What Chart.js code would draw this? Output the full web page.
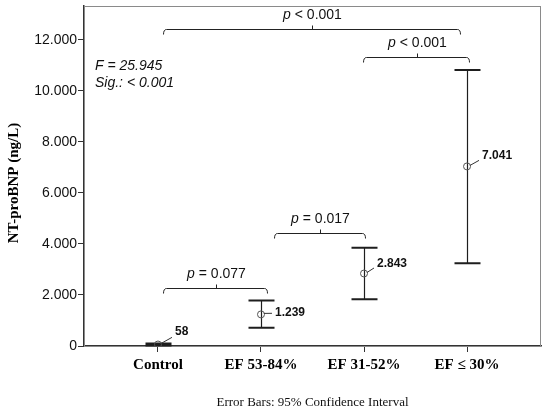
<!DOCTYPE html>
<html>
<head>
<meta charset="utf-8">
<script src="https://cdn.jsdelivr.net/npm/chart.js@4"></script>
<style>
  body { margin: 0; background: #fff; }
</style>
</head>
<body>
<canvas id="ciChart" width="550" height="411"></canvas>
<script>
const groups = ['Control', 'EF 53-84%', 'EF 31-52%', 'EF \u2264 30%'];
const meanValues = [58, 1239, 2843, 7041];
const ciLow = [22, 720, 1830, 3240];
const ciHigh = [96, 1780, 3850, 10820];
const yTicks = [0, 2000, 4000, 6000, 8000, 10000, 12000];

// pairwise comparisons
const bracketFrom = [0, 1, 2, 0];
const bracketTo = [1, 2, 3, 3];
const bracketLevel = [2275, 4430, 11330, 12430];
const bracketText = ['= 0.077', '= 0.017', '< 0.001', '< 0.001'];

const anovaLines = ['F = 25.945', 'Sig.: < 0.001'];

// pixel nudges for the drawing only
const labelNudge = [[17, -13], [14, -2], [13, -10], [15, -11]];
const bracketInset = [[5, 6], [13, 1], [-1, 2], [5, -7]];

const SANS = '"Liberation Sans", Arial, sans-serif';
const SERIF = '"Liberation Serif", "Times New Roman", serif';

function dotThousands(v) {
    return String(v).replace(/\B(?=(\d{3})+(?!\d))/g, '.');
}

const extras = {
    id: 'extras',
    beforeDatasetsDraw(chart) {
        const {ctx, chartArea: a, scales: {x, y}} = chart;
        ctx.save();
        // frame
        ctx.strokeStyle = '#8a8a8a';
        ctx.lineWidth = 1;
        ctx.strokeRect(a.left + 0.5, a.top + 0.5, a.right - a.left - 1, a.bottom - a.top);

        // error bars
        ctx.strokeStyle = '#1e1e1e';
        for (let i = 0; i < groups.length; i++) {
            const px = Math.round(x.getPixelForValue(i)) + 0.5;
            const lo = y.getPixelForValue(ciLow[i]);
            const hi = y.getPixelForValue(ciHigh[i]);
            ctx.lineWidth = 1.2;
            ctx.beginPath();
            ctx.moveTo(px, lo);
            ctx.lineTo(px, hi);
            ctx.stroke();
            ctx.lineWidth = 2;
            ctx.beginPath();
            ctx.moveTo(px - 13, lo);
            ctx.lineTo(px + 13, lo);
            ctx.moveTo(px - 13, hi);
            ctx.lineTo(px + 13, hi);
            ctx.stroke();
        }
        ctx.restore();
    },
    afterDatasetsDraw(chart) {
        const {ctx, chartArea: a, scales: {x, y}} = chart;
        ctx.save();

        // mean labels with leader lines
        ctx.font = 'bold 12px ' + SANS;
        ctx.textBaseline = 'middle';
        ctx.fillStyle = '#111';
        ctx.strokeStyle = '#333';
        ctx.lineWidth = 1;
        for (let i = 0; i < groups.length; i++) {
            const px = x.getPixelForValue(i);
            const py = y.getPixelForValue(meanValues[i]);
            const [dx, dy] = labelNudge[i];
            ctx.beginPath();
            ctx.moveTo(px + 3, py - 1);
            ctx.lineTo(px + dx - 3, py + dy * 0.55);
            ctx.stroke();
            ctx.textAlign = 'left';
            ctx.fillText(dotThousands(meanValues[i]), px + dx, py + dy);
        }

        // brackets
        ctx.strokeStyle = '#222';
        ctx.lineWidth = 1;
        for (let k = 0; k < bracketFrom.length; k++) {
            const x0 = Math.round(x.getPixelForValue(bracketFrom[k]) + bracketInset[k][0]) + 0.5;
            const x1 = Math.round(x.getPixelForValue(bracketTo[k]) + bracketInset[k][1]) + 0.5;
            const by = Math.round(y.getPixelForValue(bracketLevel[k])) + 0.5;
            const mid = Math.round((x0 + x1) / 2) + 0.5;
            ctx.beginPath();
            ctx.moveTo(x0, by + 5);
            ctx.quadraticCurveTo(x0, by, x0 + 3, by);
            ctx.lineTo(x1 - 3, by);
            ctx.quadraticCurveTo(x1, by, x1, by + 5);
            ctx.moveTo(mid, by);
            ctx.lineTo(mid, by - 4);
            ctx.stroke();

            ctx.font = 'italic 14px ' + SANS;
            const wp = ctx.measureText('p').width;
            ctx.font = '14px ' + SANS;
            const rest = ' ' + bracketText[k];
            const wr = ctx.measureText(rest).width;
            const sx = mid - (wp + wr) / 2;
            const ty = by - 14;
            ctx.textAlign = 'left';
            ctx.font = 'italic 14px ' + SANS;
            ctx.fillText('p', sx, ty);
            ctx.font = '14px ' + SANS;
            ctx.fillText(rest, sx + wp, ty);
        }

        // ANOVA result
        ctx.font = 'italic 14px ' + SANS;
        ctx.textAlign = 'left';
        anovaLines.forEach((t, j) => ctx.fillText(t, a.left + 11, a.top + 60 + j * 17));

        // y axis title, placed a bit below the plot centre as in the source
        ctx.save();
        ctx.translate(14, (a.top + a.bottom) / 2 + 7);
        ctx.rotate(-Math.PI / 2);
        ctx.textAlign = 'center';
        ctx.fillStyle = '#000';
        ctx.font = 'bold 15px ' + SERIF;
        ctx.fillText('NT-proBNP (ng/L)', 0, 0);
        ctx.restore();

        ctx.restore();
    }
};

new Chart(document.getElementById('ciChart').getContext('2d'), {
    type: 'scatter',
    data: {
        datasets: [{
            data: meanValues.map((v, i) => ({x: i, y: v})),
            pointStyle: 'circle',
            pointRadius: 3.5,
            pointHoverRadius: 3.5,
            borderColor: '#555',
            borderWidth: 1,
            backgroundColor: 'rgba(0,0,0,0)'
        }]
    },
    options: {
        responsive: false,
        animation: false,
        devicePixelRatio: 1,
        layout: { padding: { top: 6, right: 9, left: 0, bottom: 0 } },
        plugins: {
            legend: { display: false },
            tooltip: { enabled: false }
        },
        scales: {
            x: {
                type: 'linear',
                min: -0.718,
                max: 3.718,
                afterBuildTicks: s => { s.ticks = groups.map((g, i) => ({value: i})); },
                afterFit: s => { s.height = 65; s.paddingLeft = 0; s.paddingRight = 0; },
                grid: { drawOnChartArea: false, drawTicks: true, tickLength: 6, color: '#333' },
                border: { display: true, color: '#333', width: 1.5 },
                ticks: {
                    autoSkip: false,
                    maxRotation: 0,
                    padding: 4,
                    color: '#000',
                    font: { family: SERIF, size: 15, weight: 'bold' },
                    callback: v => groups[v]
                },
                title: {
                    display: true,
                    text: 'Error Bars: 95% Confidence Interval',
                    color: '#111',
                    font: { family: SERIF, size: 13 },
                    padding: { top: 0, bottom: 1 }
                }
            },
            y: {
                min: 0,
                max: 13330,
                afterBuildTicks: s => { s.ticks = yTicks.map(v => ({value: v})); },
                afterFit: s => { s.width = 84; s.paddingTop = 0; s.paddingBottom = 0; },
                grid: { drawOnChartArea: false, drawTicks: true, tickLength: 6, color: '#333' },
                border: { display: true, color: '#333', width: 1.5 },
                ticks: {
                    padding: 1,
                    color: '#111',
                    font: { family: SANS, size: 14 },
                    callback: v => dotThousands(v)
                },
                title: { display: false }
            }
        }
    },
    plugins: [extras]
});
</script>
</body>
</html>
